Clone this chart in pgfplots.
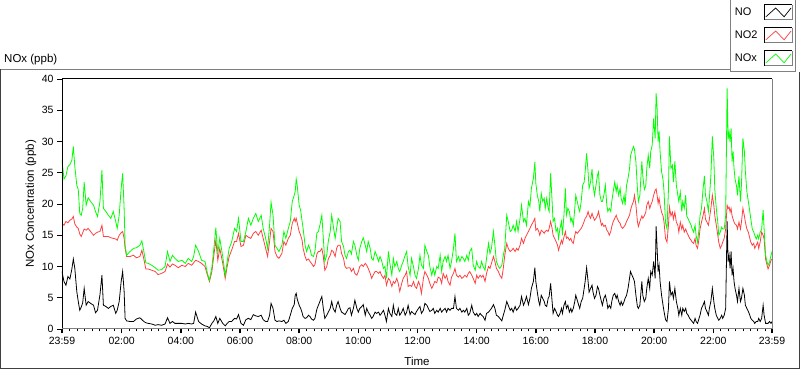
\documentclass[border=0pt]{standalone}
\usepackage{fontspec}
\setmainfont{Liberation Sans}
\usepackage{pgfplots}
\usepackage{pgfplotstable}
\pgfplotsset{compat=1.18}
\definecolor{noxgreen}{RGB}{0,255,0}
\definecolor{no2red}{RGB}{255,64,64}
\definecolor{framegray}{RGB}{128,128,128}
\definecolor{framedark}{RGB}{64,64,64}

% t = minutes since 23:59
\pgfplotstableread{
t no no2 nox
0 9.2 16.9 27.0
4 7.6 16.6 24.0
8 7.0 17.2 24.5
12 8.4 17.0 26.0
16 8.0 17.4 26.3
20 9.6 17.6 27.0
23 11.2 18.0 29.2
26 9.7 16.8 26.0
30 6.0 16.3 23.0
33 4.4 16.1 22.3
36 3.0 15.2 18.5
39 3.5 14.8 18.2
42 4.2 15.4 19.3
45 6.5 16.0 23.5
49 3.8 15.8 19.8
53 4.4 16.1 21.0
58 4.1 15.6 20.4
64 3.8 15.0 19.8
68 2.6 15.3 18.8
72 3.0 15.5 18.0
77 5.5 15.6 20.4
81 8.6 16.6 25.4
84 3.8 14.8 19.3
89 3.6 14.8 18.8
94 3.3 14.8 18.2
99 3.6 14.6 17.7
104 3.8 14.5 18.8
109 2.5 14.4 17.2
112 3.0 14.2 16.1
116 4.4 15.0 18.2
120 7.6 15.4 22.5
123 9.2 15.6 24.9
126 6.0 14.5 19.3
128 1.7 12.9 13.4
131 1.3 11.6 11.8
138 1.2 11.6 12.4
145 1.2 11.8 12.9
151 1.6 11.4 13.0
158 1.8 11.6 13.4
162 1.5 12.6 14.1
166 1.2 11.2 12.4
170 1.0 9.6 10.6
175 0.9 9.6 10.5
182 0.8 9.4 10.2
189 0.6 9.2 9.8
195 0.7 8.7 9.4
202 0.6 8.9 9.5
209 0.8 9.2 10.0
214 1.8 10.4 12.4
219 0.9 9.9 10.8
224 1.2 10.4 11.8
229 0.9 10.2 11.3
236 0.9 9.8 10.8
243 0.9 10.2 11.0
250 0.8 10.0 10.5
256 0.9 10.5 11.3
263 0.8 10.2 10.8
267 0.9 10.6 11.6
271 2.7 11.0 13.4
277 1.2 10.8 12.4
283 0.8 10.5 11.0
290 0.5 10.0 10.8
295 0.4 8.6 8.9
299 0.2 7.6 7.8
304 0.9 9.2 9.9
308 1.3 11.8 12.9
312 2.0 14.2 16.2
316 0.9 11.0 12.2
320 1.7 12.9 14.5
326 0.9 10.5 11.6
331 0.5 8.1 8.6
335 0.9 10.0 10.8
339 1.2 11.6 12.9
344 1.2 12.6 13.9
350 1.7 14.0 16.1
354 1.6 14.0 15.6
358 2.3 15.3 17.7
363 0.9 13.2 14.0
368 0.6 13.4 14.0
373 1.5 15.0 15.6
378 1.7 14.7 17.7
383 1.5 14.5 16.6
388 2.3 15.3 17.7
393 2.1 15.6 18.5
398 2.0 15.0 17.2
404 2.2 15.8 18.2
408 1.5 14.5 16.1
413 1.2 12.9 14.5
417 1.2 11.6 12.9
421 2.2 14.0 16.6
424 4.1 16.1 20.3
428 3.3 15.6 18.2
432 1.4 12.4 13.4
436 1.2 11.6 12.9
440 1.3 11.3 12.4
446 1.2 12.1 13.4
450 1.4 14.0 15.6
454 0.9 13.4 14.5
459 1.2 14.5 16.1
463 2.2 15.0 17.2
467 3.3 16.9 20.4
471 3.9 17.7 21.4
473 5.4 17.2 22.0
475 5.7 17.7 24.0
477 4.8 17.0 23.0
481 3.8 15.6 19.8
484 3.3 15.0 19.0
487 2.6 14.2 17.2
489 2.0 12.9 16.1
493 1.7 11.6 13.4
496 1.8 11.0 12.4
500 2.2 11.2 13.4
503 2.0 10.8 12.8
506 1.6 10.5 11.8
510 1.4 10.0 11.6
513 1.7 10.3 12.4
517 3.2 12.0 15.4
520 3.8 12.4 15.6
523 4.4 12.4 16.6
527 5.2 12.9 18.2
530 3.3 11.6 14.5
533 1.7 9.4 10.8
537 2.2 10.0 11.8
540 2.7 11.2 14.0
544 3.3 11.8 15.6
547 4.4 12.6 18.2
550 3.3 12.4 16.6
554 2.7 11.6 14.5
557 3.8 12.9 16.1
560 4.4 13.4 17.7
564 3.3 13.4 17.2
567 2.7 12.1 14.0
571 2.5 11.3 13.2
574 2.3 10.0 11.8
577 2.7 9.7 11.3
581 3.3 9.8 12.4
584 3.4 9.8 12.6
587 2.2 9.2 12.0
591 3.3 9.7 14.0
594 4.6 8.9 13.4
598 3.3 8.6 11.8
601 2.7 9.2 11.0
604 3.3 10.0 12.9
608 3.6 10.3 14.0
611 3.9 10.0 14.6
615 2.2 10.5 13.4
618 3.3 10.2 12.4
621 2.7 9.7 14.0
625 2.2 8.9 12.9
628 1.7 8.1 11.3
631 2.0 8.6 11.0
635 2.7 9.2 12.4
638 2.5 9.2 11.8
642 2.7 8.9 10.8
645 2.2 9.2 11.6
648 2.5 8.6 11.0
652 3.0 8.1 9.7
655 2.2 8.6 10.0
658 1.2 7.0 8.1
662 3.3 8.1 12.4
665 2.5 7.8 10.5
669 2.0 6.8 8.6
672 3.8 7.6 11.3
675 2.5 7.3 10.0
679 2.2 8.1 10.8
682 3.3 7.3 9.7
685 2.2 6.0 9.2
689 2.7 7.3 10.2
692 3.3 8.1 10.8
696 2.2 8.6 11.8
699 2.7 9.2 12.4
702 3.8 6.8 10.0
706 2.3 7.0 8.6
709 2.8 6.8 11.3
713 2.5 7.6 9.9
716 2.3 6.8 8.6
719 2.8 6.5 8.1
723 3.3 7.6 9.7
726 3.6 7.0 11.8
729 2.5 5.7 10.2
733 3.0 8.1 9.7
736 4.1 9.2 13.4
740 3.8 8.6 12.4
743 3.3 8.1 11.8
746 2.8 7.3 10.0
750 3.0 6.5 8.6
753 3.3 7.0 9.7
756 2.5 7.6 8.6
760 3.0 7.4 10.0
763 2.7 8.3 9.7
767 3.3 8.1 11.8
770 2.7 7.3 9.2
773 3.0 8.9 10.8
777 3.3 8.1 11.6
780 2.7 8.6 10.8
783 3.3 7.6 11.8
787 3.0 7.0 9.7
790 3.3 8.3 10.8
794 3.3 8.9 12.9
797 5.2 9.7 15.3
800 3.3 8.6 10.8
804 3.0 8.3 11.6
807 3.3 8.6 10.8
811 2.7 8.1 11.6
814 3.0 8.3 11.3
817 2.7 8.6 10.8
821 3.3 8.3 11.8
824 2.2 8.9 11.0
827 2.5 9.2 12.4
831 3.8 8.6 12.9
834 2.7 8.1 10.2
838 2.2 7.3 9.4
841 2.5 8.6 10.8
844 2.0 8.1 10.0
848 2.5 8.6 9.7
851 2.2 8.3 10.8
854 2.0 8.6 10.0
858 1.4 7.6 9.4
861 2.5 8.9 11.3
865 2.7 10.0 13.7
868 3.0 9.7 12.1
871 3.3 10.5 12.9
875 3.9 11.6 15.6
878 3.3 10.8 13.4
881 2.2 9.7 10.8
885 2.0 9.2 10.0
888 1.7 8.6 9.7
892 1.3 8.1 10.2
895 2.2 9.7 11.8
898 3.0 11.8 12.9
902 4.4 13.7 18.2
905 3.8 12.9 17.2
909 3.0 12.4 15.6
912 3.3 12.6 15.8
915 2.7 12.9 16.6
919 3.6 12.4 15.6
922 3.0 12.9 17.2
925 3.3 12.6 15.6
929 3.8 13.4 17.7
932 5.2 14.5 19.8
936 3.8 13.7 17.2
939 4.4 14.5 17.7
942 5.2 15.0 16.6
946 3.9 15.6 20.4
949 4.9 16.1 19.6
952 6.5 16.6 22.5
956 7.6 17.2 24.1
959 9.8 17.7 26.7
961 7.6 15.8 23.3
964 5.9 16.1 21.4
967 4.4 15.6 20.4
969 3.8 15.0 18.8
972 5.4 15.8 21.7
975 4.9 15.6 20.4
978 4.4 15.3 20.9
980 3.8 15.6 19.3
983 3.6 15.8 20.9
986 4.9 15.6 19.3
988 5.2 16.1 18.8
991 7.3 17.2 24.9
994 4.4 16.1 20.4
996 2.5 15.0 17.2
999 3.3 14.5 17.7
1002 2.8 14.0 15.6
1005 2.2 13.4 16.1
1007 2.0 12.6 14.5
1010 2.5 13.4 16.1
1013 3.3 14.2 17.2
1015 2.5 13.7 15.0
1018 3.8 14.7 18.2
1021 4.4 15.6 22.5
1023 3.3 14.5 18.2
1026 3.8 14.7 19.3
1029 2.7 14.2 18.8
1032 3.3 14.5 17.2
1034 2.7 14.0 17.7
1037 3.3 13.7 16.6
1040 4.4 15.0 19.3
1042 5.4 15.6 21.4
1045 4.6 15.3 20.4
1048 3.8 15.6 19.3
1050 3.3 15.8 18.8
1053 4.4 16.1 20.4
1056 4.9 16.6 23.0
1059 6.5 17.2 23.5
1061 7.6 17.7 25.1
1064 9.8 18.0 28.1
1067 7.6 18.8 25.1
1069 5.9 18.2 22.5
1072 6.5 17.7 23.5
1075 7.0 18.5 25.6
1077 5.9 18.0 23.0
1080 4.9 17.4 21.4
1083 5.4 17.7 23.0
1086 6.8 18.2 24.6
1088 6.5 18.8 25.1
1091 5.4 17.7 21.4
1094 4.4 16.6 20.4
1096 3.8 16.9 20.4
1099 4.9 16.4 21.4
1102 5.4 16.6 23.0
1105 4.4 15.8 19.8
1107 3.3 15.6 18.8
1110 3.8 15.0 19.3
1113 3.3 15.6 18.8
1115 4.4 16.4 20.4
1118 5.4 17.2 22.0
1121 5.7 17.7 23.5
1124 4.9 18.2 22.0
1126 5.4 17.7 23.0
1129 4.4 17.2 21.4
1132 3.8 16.9 22.5
1134 4.4 16.4 20.9
1137 3.8 16.1 20.1
1140 4.4 16.4 21.4
1142 4.9 16.6 19.8
1145 5.4 17.2 23.0
1148 6.5 17.7 24.1
1151 8.1 18.2 25.6
1153 9.2 19.0 27.7
1156 8.6 19.8 28.5
1159 8.1 20.4 29.2
1161 7.6 21.4 28.8
1164 5.4 19.8 26.7
1167 3.6 17.2 22.5
1169 3.3 16.4 20.4
1172 3.8 17.2 21.4
1176 7.6 18.1 26.8
1178 5.4 17.7 24.5
1181 4.4 18.1 22.3
1184 4.9 18.7 22.9
1186 6.5 19.8 25.7
1189 8.1 20.4 27.8
1192 6.5 19.3 25.7
1194 9.2 19.8 28.4
1197 8.6 20.4 29.4
1200 10.8 21.4 33.7
1203 8.1 22.2 30.5
1205 16.4 22.4 37.7
1207 12.9 21.4 35.3
1209 9.2 20.1 30.0
1211 10.2 20.9 31.6
1213 7.6 19.8 28.4
1216 5.4 18.7 25.2
1219 3.8 18.1 23.9
1221 2.8 17.1 22.0
1224 1.5 14.5 17.0
1227 1.2 13.9 16.0
1230 3.3 16.6 22.3
1232 7.6 19.5 30.8
1235 5.4 18.1 25.7
1238 5.9 18.7 26.2
1240 4.9 17.6 23.5
1243 6.5 18.7 26.8
1246 4.4 17.1 23.0
1249 3.3 16.6 21.4
1251 2.2 15.5 20.4
1254 3.3 17.1 21.9
1257 2.2 16.0 18.8
1259 3.3 16.6 20.4
1262 2.8 15.5 19.3
1265 3.3 16.0 21.4
1267 2.5 15.5 18.1
1270 2.2 15.0 17.6
1273 1.7 14.5 17.1
1276 1.4 14.2 16.6
1278 1.2 13.9 16.0
1281 0.9 13.7 15.5
1284 1.7 14.5 16.6
1286 1.2 13.4 15.0
1289 0.9 12.9 13.9
1292 1.7 14.5 16.0
1294 2.2 16.0 18.1
1297 3.3 17.1 19.3
1300 3.8 18.1 22.3
1303 4.4 19.3 24.5
1305 3.3 17.6 21.4
1308 2.8 17.1 20.4
1311 2.2 16.6 18.8
1313 3.3 17.6 20.9
1316 4.4 19.3 24.5
1319 6.5 21.4 30.8
1322 4.4 19.8 27.3
1324 3.3 18.1 22.3
1327 2.2 16.6 19.3
1330 1.7 15.0 17.1
1332 1.4 13.9 15.0
1335 1.7 12.9 15.5
1338 2.2 13.4 16.3
1340 1.7 13.9 16.0
1343 2.2 14.5 16.0
1346 3.3 16.0 18.1
1349 17.2 19.8 38.5
1351 10.8 19.3 30.4
1353 11.8 19.5 31.5
1355 9.7 18.7 29.9
1357 12.4 19.3 32.1
1359 8.6 18.1 26.8
1361 9.7 17.6 28.4
1363 7.6 17.1 25.7
1365 6.5 16.8 24.0
1368 5.4 16.6 22.9
1370 4.4 16.0 21.4
1373 6.5 17.1 24.5
1376 4.4 16.0 20.4
1378 4.9 17.1 23.0
1381 6.5 19.3 30.5
1384 5.4 18.1 28.4
1386 3.8 17.1 25.2
1389 3.3 16.0 22.0
1392 2.8 15.5 20.4
1395 2.2 14.5 18.8
1397 1.7 13.9 17.6
1400 1.4 13.4 16.0
1403 1.2 13.7 15.5
1405 0.9 12.9 15.0
1408 1.2 13.4 14.4
1411 1.2 13.9 15.0
1413 1.7 12.9 14.4
1416 1.2 13.9 15.5
1419 1.7 15.5 16.0
1422 3.8 15.0 19.0
1424 2.2 14.4 16.0
1427 0.9 11.2 11.8
1430 0.9 10.2 10.7
1432 0.9 9.6 10.2
1435 1.2 10.2 10.7
1438 0.9 11.0 11.8
1440 1.2 11.2 12.4
}\datatable

\begin{document}
\fontsize{11.5}{13.5}\selectfont
\begin{tikzpicture}[x=1pt,y=1pt]
\useasboundingbox (0,0) rectangle (800,369);
% outer panel frame
\draw[line width=1pt, framegray] (0,299.5) -- (730,299.5);
\draw[line width=1pt, framedark] (0.5,299.5) -- (0.5,0.5) -- (799.5,0.5) -- (799.5,297);
\node[anchor=west, inner sep=0pt] at (4,309) {NOx (ppb)};

\begin{axis}[
  at={(62pt,40pt)}, anchor=south west,
  scale only axis, width=710pt, height=250pt,
  xmin=0, xmax=1440, ymin=0, ymax=40,
  axis line style={draw=none},
  tick align=outside,
  xtick pos=bottom, ytick pos=left,
  xtick={0,121,241,361,481,601,721,841,961,1081,1201,1321,1440},
  xticklabels={23:59,02:00,04:00,06:00,08:00,10:00,12:00,14:00,16:00,18:00,20:00,22:00,23:59},
  minor xtick={16,31,...,1426},
  ytick={0,5,...,40},
  major tick length=4.5pt, minor tick length=2.5pt,
  tick style={black, line width=0.8pt},
  every major x tick/.append style={line width=1.4pt},
  /pgf/number format/assume math mode=true,
  ticklabel style={font=\fontsize{10.5}{12.5}\selectfont},
  label style={font=\fontsize{11.8}{13.5}\selectfont},
  xlabel={Time},
  ylabel={NOx Concentration (ppb)},
  every axis x label/.style={at={(rel axis cs:0.5,0)}, anchor=center, yshift=-32.5pt},
  every axis y label/.style={at={(rel axis cs:0,0.5)}, anchor=center, rotate=90, yshift=31pt},
  legend plot pos=right,
  legend image code/.code={
    \fill[white] (0pt,-7.5pt) rectangle (28pt,7.5pt);
    \draw[line width=1pt, framegray] (0pt,-7.5pt) -- (28pt,-7.5pt) -- (28pt,7.5pt);
    \draw[line width=1pt, black] (0pt,-7.5pt) -- (0pt,7.5pt) -- (28pt,7.5pt);
    \draw[#1, line width=0.7pt] (1.8pt,-4.3pt) -- (11.6pt,4.5pt) -- (20pt,-4.3pt) -- (27pt,4.5pt);
  },
  legend style={
    at={(0.9408,1.028)}, anchor=south west,
    draw=framegray, line width=1pt, fill=white,
    inner xsep=2.5pt, inner ysep=5pt,
    row sep=7pt, /tikz/column sep=4pt,
    font=\fontsize{11}{13}\selectfont,
    cells={anchor=west},
  },
]
\addplot[black, line width=0.8pt] table[x=t, y=no] {\datatable};
\addlegendentry{NO}
\addplot[no2red, line width=0.8pt] table[x=t, y=no2] {\datatable};
\addlegendentry{NO2}
\addplot[noxgreen, line width=0.8pt] table[x=t, y=nox] {\datatable};
\addlegendentry{NOx}
\end{axis}
% plot area border (sunken look)
\draw[line width=1pt, black] (62,40) -- (62,290) -- (772,290);
\draw[line width=1pt, framegray] (772,290) -- (772,40) -- (62,40);
\end{tikzpicture}
\end{document}
